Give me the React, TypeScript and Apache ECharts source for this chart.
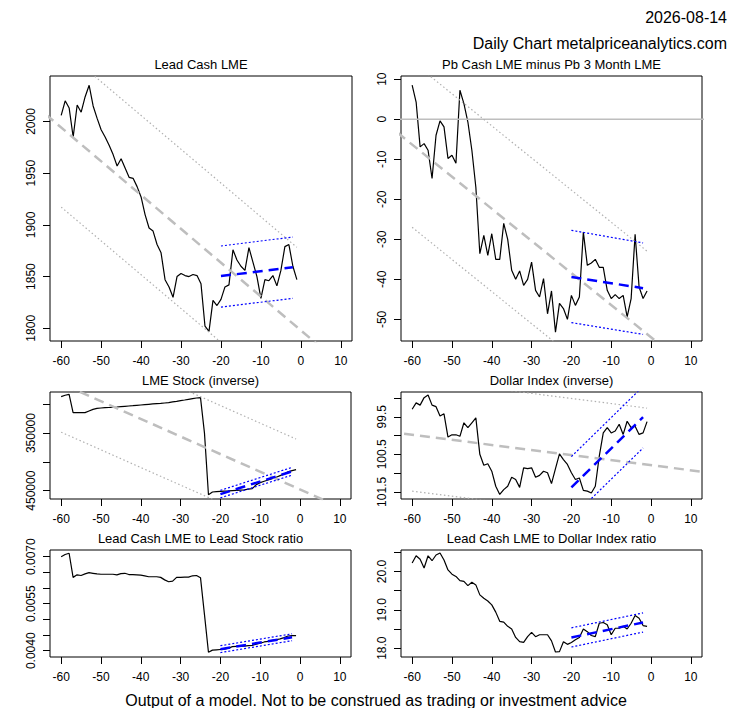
import { useRef, useEffect } from 'react'
import * as echarts from 'echarts'

// trading days relative to today
const days = [
  -60, -59, -58, -57, -56, -55, -54, -53, -52, -51,
  -50, -49, -48, -47, -46, -45, -44, -43, -42, -41,
  -40, -39, -38, -37, -36, -35, -34, -33, -32, -31,
  -30, -29, -28, -27, -26, -25, -24, -23, -22, -21,
  -20, -19, -18, -17, -16, -15, -14, -13, -12, -11,
  -10, -9, -8, -7, -6, -5, -4, -3, -2, -1,
]

const leadCash = [
  2006, 2020, 2013, 1985, 2016, 2009, 2024, 2035, 2015, 2003,
  1992, 1985, 1977, 1968, 1957, 1964, 1955, 1946, 1945, 1937,
  1927, 1910, 1897, 1894, 1881, 1873, 1847, 1840, 1830, 1850,
  1853, 1851, 1850, 1852, 1851, 1843, 1802, 1797, 1827, 1822,
  1828, 1840, 1842, 1876, 1866, 1860, 1856, 1878, 1864, 1850,
  1829, 1847, 1846, 1851, 1841, 1856, 1879, 1881, 1860, 1847,
]

const cashMinus3m = [
  8.5, 4.3, -6.9, -6.1, -7.75, -14.8, -4, -0.4, -1.9, -9.8,
  -9, -11, 7.25, 3.9, -0.7, -7.75, -17, -33.6, -29, -34,
  -28.6, -35, -35, -26, -30, -37.75, -40, -37.9, -41.5, -40,
  -35.7, -42.75, -44.4, -39.8, -48.6, -42.9, -53.2, -46, -47.3, -50,
  -44, -46.5, -44.4, -28.2, -36.5, -35.9, -35, -37, -37, -42.75,
  -44.8, -43.8, -44.8, -44, -49.4, -44.8, -28.75, -41.9, -44.8, -42.9,
]

const lmeStock = [
  286600, 284300, 282600, 314500, 314500, 314500, 314500, 311600, 308700, 307000,
  306400, 305800, 305500, 305200, 304700, 304100, 303500, 302900, 302400, 301800,
  301200, 300600, 300000, 299400, 298800, 298300, 297700, 297100, 295900, 294800,
  293600, 292500, 291300, 290100, 289000, 288400, 350000, 457000, 452300, 451700,
  451200, 450800, 450500, 450000, 449500, 449000, 448500, 447500, 446500, 439500,
  436000, 433700, 431400, 429000, 426700, 423800, 421000, 417400, 415100, 413400,
]

const dollarIndex = [
  99.3, 99.13, 99.19, 98.99, 98.92, 99.19, 99.23, 99.48, 99.42, 100.04,
  99.98, 99.98, 100.02, 99.66, 99.79, 99.66, 99.53, 100.5, 100.79, 100.75,
  100.95, 101.35, 101.57, 101.44, 101.35, 101.11, 101.17, 101.38, 100.86, 100.88,
  100.86, 101.11, 101.06, 100.95, 100.99, 101.28, 100.88, 100.49, 100.64, 100.77,
  100.99, 101.17, 101.13, 101.46, 101.48, 101.53, 101.35, 100.55, 99.93, 99.79,
  99.93, 99.88, 99.7, 99.97, 99.62, 99.79, 99.75, 99.97, 99.93, 99.63,
]

const stockRatio = [
  0.007, 0.00707, 0.00711, 0.00634, 0.00642, 0.0064, 0.00645, 0.00649, 0.00647, 0.00645,
  0.00644, 0.00644, 0.00644, 0.00644, 0.00642, 0.00646, 0.00647, 0.00643, 0.00643, 0.00642,
  0.00641, 0.00639, 0.00636, 0.00636, 0.00636, 0.00634, 0.00626, 0.0062, 0.00622, 0.00634,
  0.00634, 0.00635, 0.00635, 0.00639, 0.0064, 0.00633, 0.00515, 0.00395, 0.00402, 0.00403,
  0.00404, 0.00405, 0.00408, 0.00413, 0.00414, 0.00415, 0.00415, 0.00416, 0.00417, 0.00421,
  0.00424, 0.00428, 0.0043, 0.00433, 0.00435, 0.00438, 0.00442, 0.00447, 0.00448, 0.00448,
]

const dollarRatio = [
  20.22, 20.41, 20.32, 20.09, 20.41, 20.28, 20.43, 20.48, 20.3, 20.04,
  19.93, 19.87, 19.76, 19.74, 19.63, 19.72, 19.65, 19.39, 19.3, 19.23,
  19.13, 18.94, 18.7, 18.68, 18.57, 18.5, 18.28, 18.17, 18.15, 18.3,
  18.41, 18.3, 18.35, 18.35, 18.35, 18.19, 17.9, 17.91, 18.17, 18.1,
  18.15, 18.22, 18.28, 18.5, 18.43, 18.33, 18.3, 18.65, 18.67, 18.61,
  18.35, 18.52, 18.52, 18.57, 18.5, 18.65, 18.85, 18.78, 18.59, 18.57,
]

// long-run fit (grey dashed) and its channel (grey dotted), [day, value]
const leadFit = [[-70, 2026.9], [20, 1732.6]]
const leadFitUpper = [[-60, 2071.2], [-1, 1878.3]]
const leadFitLower = [[-60, 1917.2], [-1, 1724.3]]
const spreadFit = [[-70, 1.69], [20, -70.5]]
const spreadFitUpper = [[-60, 14.4], [-1, -32.95]]
const spreadFitLower = [[-60, -27.0], [-1, -74.35]]
const spreadZero = [[-70, 0], [20, 0]]
const stockFit = [[-70, 233280], [20, 509220]]
const stockFitUpper = [[-60, 179440], [-1, 360330]]
const stockFitLower = [[-60, 348440], [-1, 529330]]
const dollarFit = [[-70, 99.845], [20, 101.06]]
const dollarFitUpper = [[-60, 98.47], [-1, 99.27]]
const dollarFitLower = [[-60, 101.48], [-1, 102.28]]

// last 20 days fit (blue dashed) and channel (blue dotted)
const leadRecent = [[-20, 1850.5], [-2, 1859]]
const leadRecentUpper = [[-20, 1879.6], [-2, 1888.3]]
const leadRecentLower = [[-20, 1820.5], [-2, 1829]]
const spreadRecent = [[-20, -39.4], [-2, -42.2]]
const spreadRecentUpper = [[-20, -27.75], [-2, -30.9]]
const spreadRecentLower = [[-20, -50.8], [-2, -53.75]]
const stockRecent = [[-20, 456000], [-2, 416500]]
const stockRecentUpper = [[-20, 449500], [-2, 409500]]
const stockRecentLower = [[-20, 462500], [-2, 423000]]
const dollarRecent = [[-20, 101.38], [-2, 99.51]]
const dollarRecentUpper = [[-20, 100.56], [-2, 98.69]]
const dollarRecentLower = [[-20, 102.2], [-2, 100.33]]
const stockRatioRecent = [[-20, 0.00405], [-2, 0.00443]]
const stockRatioRecentUpper = [[-20, 0.00416], [-2, 0.00454]]
const stockRatioRecentLower = [[-20, 0.00394], [-2, 0.00432]]
const dollarRatioRecent = [[-20, 18.28], [-2, 18.67]]
const dollarRatioRecentUpper = [[-20, 18.53], [-2, 18.92]]
const dollarRatioRecentLower = [[-20, 18.03], [-2, 18.42]]

// axis ticks
const xTicks = [-60, -50, -40, -30, -20, -10, 0, 10]
const leadTicks = [1800, 1850, 1900, 1950, 2000]
const spreadTicks = [-50, -40, -30, -20, -10, 0, 10]
const stockTicks = [300000, 350000, 400000, 450000]
const stockLabels = [350000, 450000]
const dollarTicks = [99, 99.5, 100, 100.5, 101, 101.5]
const dollarLabels = [99.5, 100.5, 101.5]
const stockRatioTicks = [0.004, 0.0045, 0.005, 0.0055, 0.006, 0.0065, 0.007]
const stockRatioLabels = [0.004, 0.0055, 0.007]
const dollarRatioTicks = [18, 18.5, 19, 19.5, 20, 20.5]
const dollarRatioLabels = [18, 19, 20]

const FONT = "'Liberation Sans', Arial, sans-serif"
const GREY = '#bebebe'
const GREY_DOT = '#b0b0b0'
const BLUE = '#0000ff'

interface Panel {
  title: string
  values: number[]
  box: { left: number; top: number; width: number; height: number }
  yMin: number
  yMax: number
  yTicks: number[]
  yLabels: number[]
  digits: number
  inverse?: boolean
  fit?: number[][][]
  recent: number[][][]
  extra?: number[][]
}

const panels: Panel[] = [
  {
    title: 'Lead Cash LME', values: leadCash,
    box: { left: 50, top: 76, width: 302, height: 265 },
    yMin: 1787.7, yMax: 2044, yTicks: leadTicks, yLabels: leadTicks, digits: 0,
    fit: [leadFit, leadFitUpper, leadFitLower],
    recent: [leadRecent, leadRecentUpper, leadRecentLower],
  },
  {
    title: 'Pb Cash LME minus Pb 3 Month LME', values: cashMinus3m,
    box: { left: 401, top: 76, width: 301, height: 265 },
    yMin: -55.4, yMax: 10.8, yTicks: spreadTicks, yLabels: spreadTicks, digits: 0,
    fit: [spreadFit, spreadFitUpper, spreadFitLower],
    recent: [spreadRecent, spreadRecentUpper, spreadRecentLower],
    extra: spreadZero,
  },
  {
    title: 'LME Stock (inverse)', values: lmeStock,
    box: { left: 50, top: 392, width: 301, height: 107 },
    yMin: 278600, yMax: 464500, yTicks: stockTicks, yLabels: stockLabels, digits: 0, inverse: true,
    fit: [stockFit, stockFitUpper, stockFitLower],
    recent: [stockRecent, stockRecentUpper, stockRecentLower],
  },
  {
    title: 'Dollar Index (inverse)', values: dollarIndex,
    box: { left: 401, top: 392, width: 301, height: 107 },
    yMin: 98.84, yMax: 101.69, yTicks: dollarTicks, yLabels: dollarLabels, digits: 1, inverse: true,
    fit: [dollarFit, dollarFitUpper, dollarFitLower],
    recent: [dollarRecent, dollarRecentUpper, dollarRecentLower],
  },
  {
    title: 'Lead Cash LME to Lead Stock ratio', values: stockRatio,
    box: { left: 50, top: 550, width: 301, height: 107 },
    yMin: 0.0038, yMax: 0.007213, yTicks: stockRatioTicks, yLabels: stockRatioLabels, digits: 4,
    recent: [stockRatioRecent, stockRatioRecentUpper, stockRatioRecentLower],
  },
  {
    title: 'Lead Cash LME to Dollar Index ratio', values: dollarRatio,
    box: { left: 401, top: 550, width: 301, height: 107 },
    yMin: 17.77, yMax: 20.56, yTicks: dollarRatioTicks, yLabels: dollarRatioLabels, digits: 1,
    recent: [dollarRatioRecent, dollarRatioRecentUpper, dollarRatioRecentLower],
  },
]

const lineSeries = (idx: number, data: number[][], color: string, width: number, type: any) => ({
  type: 'line',
  xAxisIndex: idx,
  yAxisIndex: idx,
  data,
  symbol: 'none',
  silent: true,
  clip: true,
  lineStyle: { color, width, type, cap: 'butt' },
})

function buildOption(): echarts.EChartsOption {
  const grid: any[] = []
  const xAxis: any[] = []
  const yAxis: any[] = []
  const series: any[] = []
  const graphic: any[] = []

  panels.forEach((p, i) => {
    grid.push({
      ...p.box,
      show: true,
      borderColor: '#000',
      borderWidth: 1,
      backgroundColor: 'transparent',
      containLabel: false,
      outerBoundsMode: 'none',
    })
    xAxis.push({
      type: 'value',
      gridIndex: i,
      position: 'bottom',
      min: -62.8,
      max: 12.8,
      axisLine: { show: false, onZero: false },
      axisTick: { show: true, length: 7, lineStyle: { color: '#000' }, customValues: xTicks },
      axisLabel: { customValues: xTicks, margin: 14, fontSize: 12, color: '#000', fontFamily: FONT },
      splitLine: { show: false },
    })
    yAxis.push({
      type: 'value',
      gridIndex: i,
      position: 'left',
      min: p.yMin,
      max: p.yMax,
      inverse: !!p.inverse,
      axisLine: { show: false, onZero: false },
      axisTick: { show: true, length: 7, lineStyle: { color: '#000' }, customValues: p.yTicks },
      axisLabel: {
        customValues: p.yLabels,
        rotate: 90,
        margin: 13,
        fontSize: 12,
        color: '#000',
        fontFamily: FONT,
        formatter: (v: number) => v.toFixed(p.digits),
      },
      splitLine: { show: false },
    })

    series.push(lineSeries(i, days.map((d, k) => [d, p.values[k]]), '#000', 1.2, 'solid'))
    if (p.extra) series.push(lineSeries(i, p.extra, GREY, 1.3, 'solid'))
    if (p.fit) {
      series.push(lineSeries(i, p.fit[0], GREY, 2.5, [10, 6]))
      series.push(lineSeries(i, p.fit[1], GREY_DOT, 1.2, [1.5, 2.5]))
      series.push(lineSeries(i, p.fit[2], GREY_DOT, 1.2, [1.5, 2.5]))
    }
    series.push(lineSeries(i, p.recent[0], BLUE, 2.5, [10, 6]))
    series.push(lineSeries(i, p.recent[1], BLUE, 1.2, [2, 2]))
    series.push(lineSeries(i, p.recent[2], BLUE, 1.2, [2, 2]))

    graphic.push({
      type: 'text',
      x: p.box.left + p.box.width / 2,
      y: p.box.top - 12,
      style: { text: p.title, font: `13px ${FONT}`, fill: '#000', textAlign: 'center', textVerticalAlign: 'middle' },
    })
  })

  graphic.push(
    {
      type: 'text', x: 727, y: 17,
      style: { text: '2026-08-14', font: `16px ${FONT}`, fill: '#000', textAlign: 'right', textVerticalAlign: 'middle' },
    },
    {
      type: 'text', x: 727, y: 43,
      style: { text: 'Daily Chart metalpriceanalytics.com', font: `16px ${FONT}`, fill: '#000', textAlign: 'right', textVerticalAlign: 'middle' },
    },
    {
      type: 'text', x: 376, y: 700,
      style: { text: 'Output of a model. Not to be construed as trading or investment advice', font: `16px ${FONT}`, fill: '#000', textAlign: 'center', textVerticalAlign: 'middle' },
    },
  )

  return { animation: false, backgroundColor: '#fff', grid, xAxis, yAxis, series, graphic }
}

export default function App() {
  const chartRef = useRef<HTMLDivElement>(null)

  useEffect(() => {
    if (!chartRef.current) return
    const chart = echarts.init(chartRef.current, undefined, { renderer: 'svg' })
    chart.setOption(buildOption())
    return () => {
      chart.dispose()
    }
  }, [])

  return (
    <div
      ref={chartRef}
      style={{ position: 'absolute', left: 0, top: 0, width: 753, height: 708, background: '#fff' }}
    />
  )
}
